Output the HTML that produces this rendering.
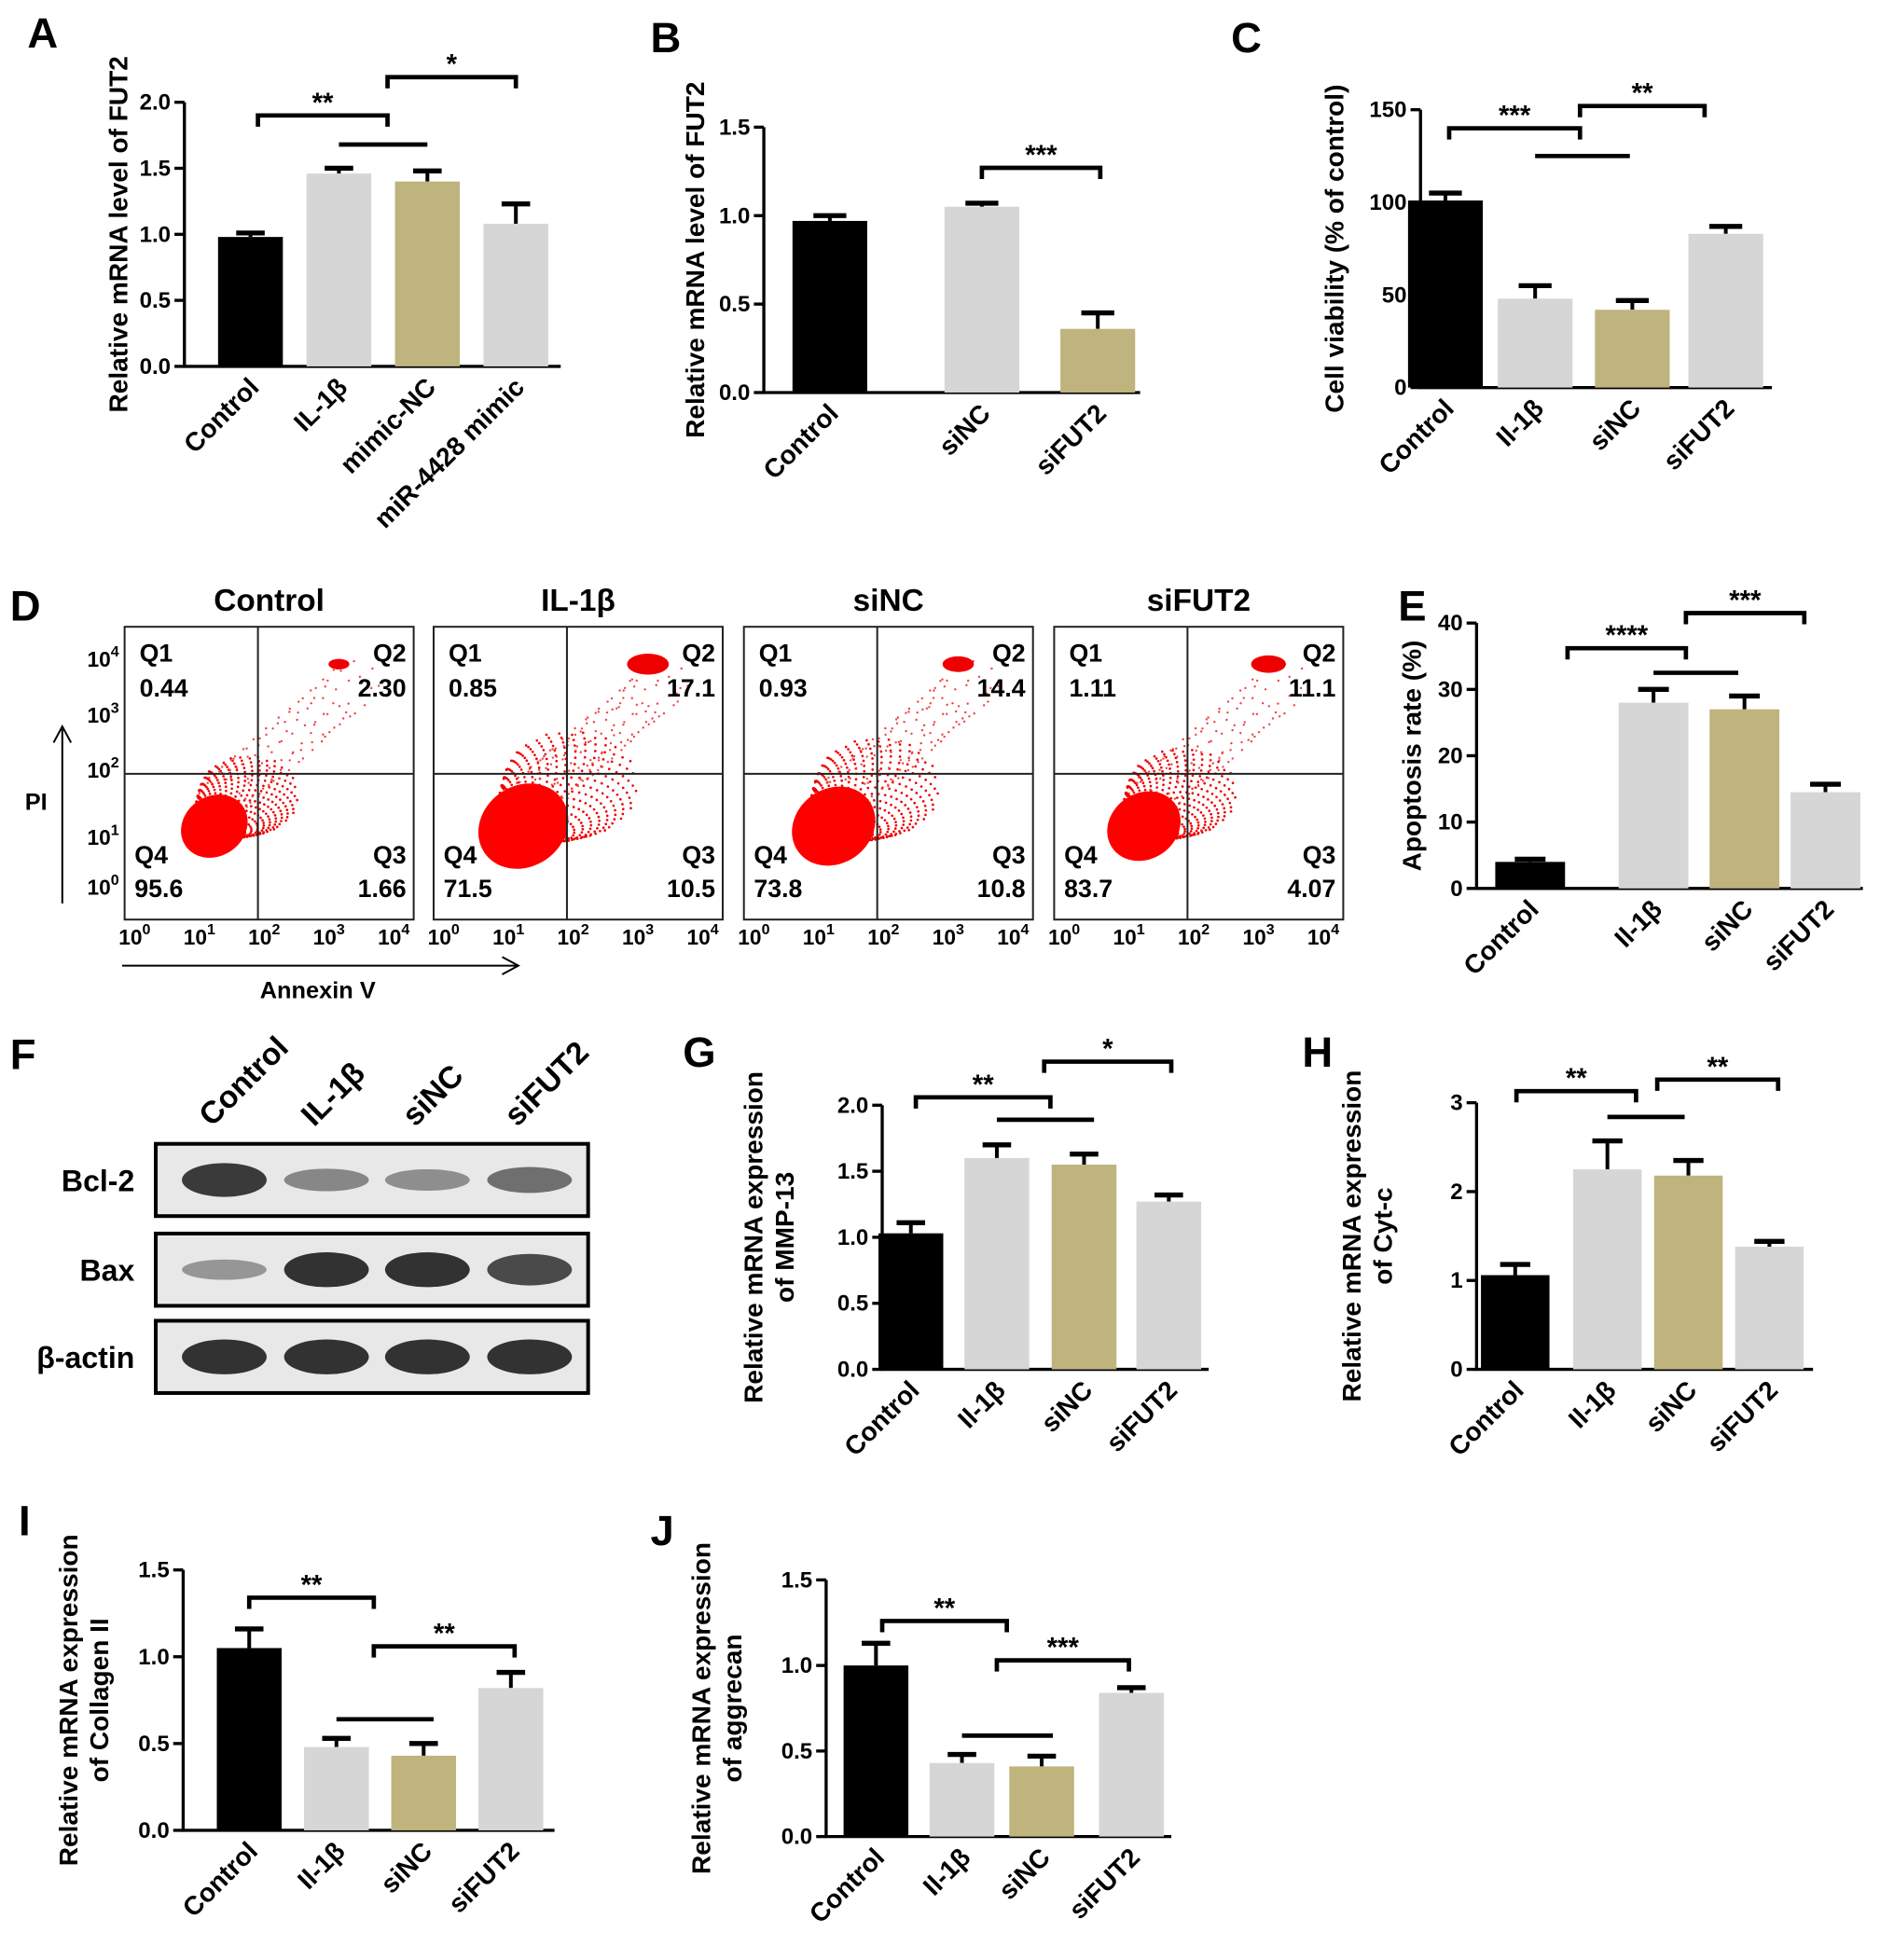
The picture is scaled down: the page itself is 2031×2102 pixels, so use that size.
<!DOCTYPE html>
<html><head><meta charset="utf-8">
<style>
html,body{margin:0;padding:0;background:#fff;}
svg{display:block;font-family:"Liberation Sans",Arial,sans-serif;font-weight:bold;}
</style></head>
<body>
<svg id="fig" width="2031" height="2102" viewBox="0 0 1520 1573" xmlns="http://www.w3.org/2000/svg"></svg>
<script>
// ---- data arrays ----
const catsA=["Control","IL-1β","mimic-NC","miR-4428 mimic"];
const valsA=[0.98,1.46,1.40,1.08];
const errsA=[0.03,0.04,0.08,0.15];
const ticksA=["0.0","0.5","1.0","1.5","2.0"];

const catsB=["Control","siNC","siFUT2"];
const valsB=[0.97,1.05,0.36];
const errsB=[0.03,0.02,0.09];
const ticksB=["0.0","0.5","1.0","1.5"];

const catsC=["Control","Il-1β","siNC","siFUT2"];
const valsC=[101,48,42,83];
const errsC=[4,7,5,4];
const ticksC=["0","50","100","150"];

const catsE=["Control","Il-1β","siNC","siFUT2"];
const valsE=[4,28,27,14.5];
const errsE=[0.4,2,2,1.2];
const ticksE=["0","10","20","30","40"];

const catsG=["Control","Il-1β","siNC","siFUT2"];
const valsG=[1.03,1.60,1.55,1.27];
const errsG=[0.08,0.10,0.08,0.05];
const ticksG=["0.0","0.5","1.0","1.5","2.0"];

const catsH=["Control","Il-1β","siNC","siFUT2"];
const valsH=[1.06,2.25,2.18,1.38];
const errsH=[0.12,0.32,0.17,0.06];
const ticksH=["0","1","2","3"];

const catsI=["Control","Il-1β","siNC","siFUT2"];
const valsI=[1.05,0.48,0.43,0.82];
const errsI=[0.11,0.05,0.07,0.09];
const ticksI=["0.0","0.5","1.0","1.5"];

const catsJ=["Control","Il-1β","siNC","siFUT2"];
const valsJ=[1.00,0.43,0.41,0.84];
const errsJ=[0.13,0.05,0.06,0.03];
const ticksJ=["0.0","0.5","1.0","1.5"];

const flowLabels=["Control","IL-1β","siNC","siFUT2"];
const flowQ1=["0.44","0.85","0.93","1.11"];
const flowQ2=["2.30","17.1","14.4","11.1"];
const flowQ3=["1.66","10.5","10.8","4.07"];
const flowQ4=["95.6","71.5","73.8","83.7"];

const NS="http://www.w3.org/2000/svg";
const svg=document.getElementById('fig');
function el(tag,attrs,parent,text){
  const e=document.createElementNS(NS,tag);
  for(const k in attrs) e.setAttribute(k,attrs[k]);
  if(text!==undefined) e.textContent=text;
  (parent||svg).appendChild(e);
  return e;
}
const COLORS=["#000","#d6d6d6","#bfb37e","#d6d6d6"];

function barChart(o){
  const g=el('g',{});
  
  
  const ymax=parseFloat(o.ticks[o.ticks.length-1]);
  const Y=v=>o.y0-(v/ymax)*(o.y0-o.ytop);
  const X=i=>o.xs[i];
  const L=el('text',{x:o.lx,y:o.ly,'font-size':34},g,o.id);
  
  
  const ya=el('line',{x1:o.ax,y1:o.y0+1,x2:o.ax,y2:o.ytop,stroke:'#000','stroke-width':2.5},g);
  
  
  const xa=el('line',{x1:o.ax-1,y1:o.y0,x2:o.xend,y2:o.y0,stroke:'#000','stroke-width':2.5},g);
  
  
  o.ticks.forEach(t=>{
    const y=Y(parseFloat(t));
    el('line',{x1:o.ax-8,y1:y,x2:o.ax,y2:y,stroke:'#000','stroke-width':2.5},g);
    const tt=el('text',{x:o.ax-11,y:y+6,'text-anchor':'end','font-size':18},g,t);
    
    
  });
  const tg=el('text',{transform:`translate(${o.tx},${(o.y0+o.ytop)/2}) rotate(-90)`,'text-anchor':'middle','font-size':21},g);
  o.title.forEach((line,k)=>{el('tspan',{x:0,dy:k===0?0:25},tg,line);});
  
  
  o.vals.forEach((v,i)=>{
    const x=X(i),w=o.bw;
    const c=o.colors?o.colors[i]:COLORS[i];
    const eTop=Y(v+o.errs[i]);
    el('line',{x1:x,y1:Y(v),x2:x,y2:eTop,stroke:'#000','stroke-width':3},g);
    el('line',{x1:x-w*0.22,y1:eTop,x2:x+w*0.22,y2:eTop,stroke:'#000','stroke-width':4},g);
    const r=el('rect',{x:x-w/2,y:Y(v),width:w,height:o.y0-Y(v),fill:c},g);
    
    
    const cl=el('text',{transform:`translate(${x+8},${o.y0+18}) rotate(-45)`,'text-anchor':'end','font-size':21},g,o.cats[i]);
    
    
  });
  (o.brackets||[]).forEach(b=>{
    const y=Y(b[2]);
    const x1=b[0],x2=b[1];
    el('path',{d:`M${x1},${y+9}V${y}H${x2}V${y+9}`,fill:'none',stroke:'#000','stroke-width':3.5},g);
    if(b[3]){const s=el('text',{x:(x1+x2)/2,y:y-3,'text-anchor':'middle','font-size':22},g,b[3]);
      
      }
  });
  (o.lines||[]).forEach(b=>{
    el('line',{x1:b[0],y1:Y(b[2]),x2:b[1],y2:Y(b[2]),stroke:'#000','stroke-width':3.5},g);
  });
}

barChart({id:'A',lx:22,ly:38,ax:148,y0:294,ytop:82,xend:450,ticks:ticksA,cats:catsA,vals:valsA,errs:errsA,
  xs:[201,272,343,414],bw:52,tx:102,title:["Relative mRNA level of FUT2"],
  brackets:[[207,311,1.9,"**"],[311,414,2.19,"*"]],lines:[[272,343,1.68]]});
barChart({id:'B',lx:522,ly:42,ax:613,y0:315,ytop:102,xend:915,ticks:ticksB,cats:catsB,vals:valsB,errs:errsB,
  xs:[666,788,881],bw:60,tx:565,title:["Relative mRNA level of FUT2"],
  brackets:[[788,883,1.27,"***"]]});
barChart({id:'C',lx:988,ly:42,ax:1140,y0:311,ytop:88,xend:1422,ticks:ticksC,cats:catsC,vals:valsC,errs:errsC,
  xs:[1160,1232,1310,1385],bw:60,tx:1078,title:["Cell viability (% of control)"],
  brackets:[[1163,1268,140,"***"],[1268,1368,152,"**"]],lines:[[1232,1308,125]]});
barChart({id:'E',lx:1122,ly:498,ax:1185,y0:713,ytop:500,xend:1495,ticks:ticksE,cats:catsE,vals:valsE,errs:errsE,
  xs:[1228,1327,1400,1465],bw:56,tx:1140,title:["Apoptosis rate (%)"],
  brackets:[[1258,1353,36.2,"****"],[1353,1448,41.5,"***"]],lines:[[1327,1395,32.5]]});
barChart({id:'G',lx:548,ly:856,ax:708,y0:1099,ytop:887,xend:970,ticks:ticksG,cats:catsG,vals:valsG,errs:errsG,
  xs:[731,800,870,938],bw:52,tx:612,title:["Relative mRNA expression","of MMP-13"],
  brackets:[[735,843,2.06,"**"],[838,940,2.33,"*"]],lines:[[800,878,1.89]]});
barChart({id:'H',lx:1045,ly:856,ax:1185,y0:1099,ytop:885,xend:1455,ticks:ticksH,cats:catsH,vals:valsH,errs:errsH,
  xs:[1216,1290,1355,1420],bw:55,tx:1092,title:["Relative mRNA expression","of Cyt-c"],
  brackets:[[1217,1313,3.13,"**"],[1330,1427,3.26,"**"]],lines:[[1290,1352,2.84]]});
barChart({id:'I',lx:15,ly:1232,ax:147,y0:1469,ytop:1260,xend:445,ticks:ticksI,cats:catsI,vals:valsI,errs:errsI,
  xs:[200,270,340,410],bw:52,tx:62,title:["Relative mRNA expression","of Collagen II"],
  brackets:[[200,300,1.34,"**"],[300,413,1.06,"**"]],lines:[[270,348,0.64]]});
barChart({id:'J',lx:522,ly:1240,ax:663,y0:1474,ytop:1268,xend:940,ticks:ticksJ,cats:catsJ,vals:valsJ,errs:errsJ,
  xs:[703,772,836,908],bw:52,tx:570,title:["Relative mRNA expression","of aggrecan"],
  brackets:[[708,808,1.26,"**"],[800,906,1.03,"***"]],lines:[[772,845,0.59]]});

// ---- D: flow cytometry ----
(function(){
  const g=el('g',{});
  
  
  el('text',{x:8,y:498,'font-size':34},g,'D');
  const lefts=[100,348,597,846];
  const spread=[1.0,1.35,1.25,1.1];
  const q2w=[0.6,1.2,0.9,1.0];
  lefts.forEach((L,i)=>{
    const W=232,T=503,H=235,qx=L+107,qy=621;
    const t=el('text',{x:L+W/2,y:490,'text-anchor':'middle','font-size':25},g,flowLabels[i]);
    
    
    const b=el('rect',{x:L,y:T,width:W,height:H,fill:'#fff',stroke:'#222','stroke-width':1.5},g);
    
    
    const s=spread[i];
    for(let k=0;k<500;k++){
      const a=k*2.39996, r=Math.sqrt(k/500);
      const x=L+70+Math.cos(a)*r*40*s+r*r*30*s, y=qy+42+Math.sin(a)*r*32*s-r*r*25*s;
      el('circle',{cx:x,cy:y,r:1,fill:'#e00'},g);
    }
    for(let k=0;k<120*s;k++){
      const a=k*2.39996, f=(k%37)/37;
      const x=qx-30+f*110+Math.cos(a)*20, y=qy+20-f*95+Math.sin(a)*18;
      el('circle',{cx:x,cy:y,r:0.9,fill:'#e44'},g);
    }
    el('ellipse',{cx:L+72,cy:qy+42,rx:28*s,ry:24*s,fill:'#f00',transform:`rotate(-35 ${L+72} ${qy+42})`},g);
    el('ellipse',{cx:L+172,cy:T+30,rx:14*q2w[i],ry:7*q2w[i],fill:'#e00'},g);
    el('line',{x1:qx,y1:T,x2:qx,y2:T+H,stroke:'#222','stroke-width':1.5},g);
    el('line',{x1:L,y1:qy,x2:L+W,y2:qy,stroke:'#222','stroke-width':1.5},g);
    const fs=20;
    el('text',{x:L+12,y:T+28,'font-size':fs},g,'Q1');
    el('text',{x:L+12,y:T+56,'font-size':fs},g,flowQ1[i]);
    el('text',{x:L+W-6,y:T+28,'font-size':fs,'text-anchor':'end'},g,'Q2');
    el('text',{x:L+W-6,y:T+56,'font-size':fs,'text-anchor':'end'},g,flowQ2[i]);
    el('text',{x:L+8,y:T+H-45,'font-size':fs},g,'Q4');
    el('text',{x:L+8,y:T+H-18,'font-size':fs},g,flowQ4[i]);
    el('text',{x:L+W-6,y:T+H-45,'font-size':fs,'text-anchor':'end'},g,'Q3');
    el('text',{x:L+W-6,y:T+H-18,'font-size':fs,'text-anchor':'end'},g,flowQ3[i]);
    [0,1,2,3,4].forEach(p=>{
      const tx=el('text',{x:L+8+p*52,y:T+H+20,'font-size':17,'text-anchor':'middle'},g,'10');
      el('tspan',{dy:-8,'font-size':12},tx,String(p));
    });
  });
  [0,1,2,3,4].forEach(p=>{
    const y=[718,678,624,580,535][p];
    const ty=el('text',{x:70,y:y,'font-size':17},g,'10');
    el('tspan',{dy:-8,'font-size':12},ty,String(p));
  });
  el('line',{x1:50,y1:725,x2:50,y2:585,stroke:'#000','stroke-width':1.5},g);
  el('path',{d:'M43,596 L50,583 L57,596',fill:'none',stroke:'#000','stroke-width':1.5},g);
  el('text',{x:20,y:650,'font-size':19},g,'PI');
  el('line',{x1:98,y1:775,x2:415,y2:775,stroke:'#000','stroke-width':1.5},g);
  el('path',{d:'M403,768 L416,775 L403,782',fill:'none',stroke:'#000','stroke-width':1.5},g);
  el('text',{x:255,y:801,'font-size':19,'text-anchor':'middle'},g,'Annexin V');
})();

// ---- F: western blot ----
(function(){
  const g=el('g',{});
  
  
  el('text',{x:8,y:858,'font-size':34},g,'F');
  const lanes=[180,262,343,425];
  const labs=["Control","IL-1β","siNC","siFUT2"];
  labs.forEach((l,i)=>el('text',{transform:`translate(${lanes[i]-10},${905}) rotate(-45)`,'font-size':25},g,l));
  const rows=[{n:'Bcl-2',y:918,h:58,k:[0.95,0.45,0.4,0.6]},{n:'Bax',y:990,h:58,k:[0.35,1,1,0.85]},{n:'β-actin',y:1060,h:58,k:[1,1,1,1]}];
  rows.forEach(r=>{
    el('rect',{x:125,y:r.y,width:347,height:r.h,fill:'#e8e8e8',stroke:'#000','stroke-width':3},g);
    el('text',{x:108,y:r.y+r.h/2+9,'font-size':24,'text-anchor':'end'},g,r.n);
    r.k.forEach((k,i)=>{
      const c=Math.round(200-170*k);
      el('ellipse',{cx:lanes[i],cy:r.y+r.h/2,rx:34,ry:5+9*k,fill:`rgb(${c},${c},${c})`,opacity:0.9},g);
    });
  });
})();
</script>
</body></html>
